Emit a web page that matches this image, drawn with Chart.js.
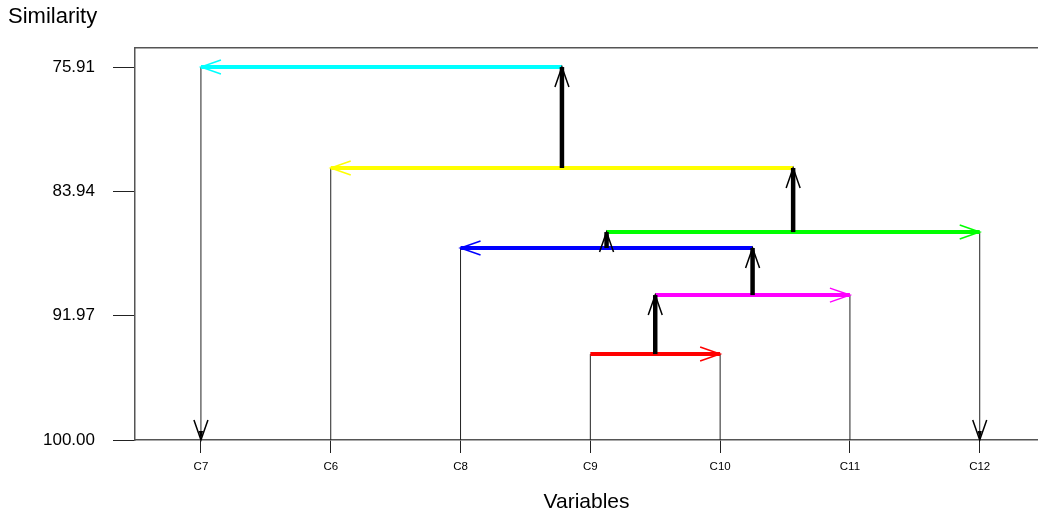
<!DOCTYPE html>
<html>
<head>
<meta charset="utf-8">
<script src="https://cdn.jsdelivr.net/npm/chart.js@4.4.1/dist/chart.umd.min.js"></script>
<style>
  html, body { margin: 0; padding: 0; background: #ffffff; }
  #chart { display: block; }
</style>
</head>
<body>
<canvas id="chart" width="1038" height="521"></canvas>
<script>
// Dendrogram data (single variable clustering)
const categories = ['C7', 'C6', 'C8', 'C9', 'C10', 'C11', 'C12'];
const yTickValues = [75.91, 83.94, 91.97, 100.00];

// Each merge step: the growing cluster, the leaf that joins it, similarity level
const mergeFrom = ['C9', 'M1', 'M2', 'M3', 'M4', 'M5'];
const mergeTo = ['C10', 'C11', 'C8', 'C12', 'C6', 'C7'];
const mergeLevel = [94.45, 90.64, 87.60, 86.57, 82.43, 75.91];

// leaves that get a down arrow on the axis
const downArrowLeaves = ['C7', 'C12'];

const MERGE_COLORS = ['#ff0000', '#ff00ff', '#0000ff', '#00ff00', '#ffff00', '#00ffff'];
const FONT = "'Liberation Sans', Arial, sans-serif";
const LINE_DARK = '#222';
const AXIS_GRAY = '#555';

function nodeX(name) {
  if (name.startsWith('M')) {
    const k = parseInt(name.slice(1)) - 1;
    return (nodeX(mergeFrom[k]) + nodeX(mergeTo[k])) / 2;
  }
  return categories.indexOf(name);
}

function nodeLevel(name) {
  if (name.startsWith('M')) return mergeLevel[parseInt(name.slice(1)) - 1];
  return 100;
}

function segment(points, color, width, order, arrow) {
  return {
    data: points,
    showLine: true,
    borderColor: color,
    backgroundColor: color,
    borderWidth: width,
    borderCapStyle: 'butt',
    pointRadius: 0,
    pointHitRadius: 0,
    clip: false,
    order: order,
    arrow: arrow || null
  };
}

/**
 * Builds all the line segments of the dendrogram
 */
function buildDatasets() {
  const sets = [];
  for (let i = 0; i < mergeFrom.length; i++) {
    const from = mergeFrom[i];
    const to = mergeTo[i];
    const level = mergeLevel[i];
    const xFrom = nodeX(from);
    const xTo = nodeX(to);

    // horizontal join, arrow toward the joining leaf
    sets.push(segment([{ x: xFrom, y: level }, { x: xTo, y: level }], MERGE_COLORS[i], 4, 2, 'end'));

    // link from the growing cluster up to this level
    if (from.startsWith('M')) {
      sets.push(segment([{ x: xFrom, y: nodeLevel(from) }, { x: xFrom, y: level }], '#000000', 4.5, 1, 'end'));
    } else {
      sets.push(segment([{ x: xFrom, y: 100 }, { x: xFrom, y: level }], LINE_DARK, 1, 3));
    }

    // thin line from the leaf on the axis
    const down = downArrowLeaves.includes(to) ? 'start' : null;
    sets.push(segment([{ x: xTo, y: 100 }, { x: xTo, y: level }], LINE_DARK, 1, 3, down));
  }
  return sets;
}

// Draws open arrow heads on datasets flagged with `arrow`
const arrowHeads = {
  id: 'arrowHeads',
  afterDatasetsDraw(chart) {
    const ctx = chart.ctx;
    chart.data.datasets.forEach((ds, i) => {
      if (!ds.arrow) return;
      const pts = chart.getDatasetMeta(i).data;
      let tip, back;
      if (ds.arrow === 'end') {
        tip = pts[pts.length - 1];
        back = pts[pts.length - 2];
      } else {
        tip = pts[0];
        back = pts[1];
      }
      const ang = Math.atan2(tip.y - back.y, tip.x - back.x);
      const len = 20;
      const half = 7;
      const bx = tip.x - len * Math.cos(ang);
      const by = tip.y - len * Math.sin(ang);
      const px = -Math.sin(ang) * half;
      const py = Math.cos(ang) * half;
      const color = ds.borderColor === LINE_DARK ? '#000000' : ds.borderColor;
      ctx.save();
      ctx.strokeStyle = color;
      ctx.fillStyle = color;
      ctx.lineWidth = 1.5;
      ctx.lineJoin = 'miter';
      ctx.beginPath();
      ctx.moveTo(bx + px, by + py);
      ctx.lineTo(tip.x, tip.y);
      ctx.lineTo(bx - px, by - py);
      ctx.stroke();
      // small solid core near the tip
      const cx = tip.x - 9 * Math.cos(ang);
      const cy = tip.y - 9 * Math.sin(ang);
      ctx.beginPath();
      ctx.moveTo(tip.x, tip.y);
      ctx.lineTo(cx + px * 0.3, cy + py * 0.3);
      ctx.lineTo(cx - px * 0.3, cy - py * 0.3);
      ctx.closePath();
      ctx.fill();
      ctx.restore();
    });
  }
};

const X_MIN = -0.508;
const X_MAX = 6.449;

new Chart(document.getElementById('chart'), {
  type: 'scatter',
  data: { datasets: buildDatasets() },
  options: {
    responsive: false,
    devicePixelRatio: 1,
    animation: false,
    layout: { padding: { left: 8, right: 0, top: 0, bottom: 0 } },
    plugins: {
      legend: { display: false },
      tooltip: { enabled: false },
      title: {
        display: true,
        text: 'Similarity',
        align: 'start',
        color: '#000000',
        font: { family: FONT, size: 22, weight: 'normal' },
        padding: { top: 4, bottom: 17.6 }
      }
    },
    scales: {
      x: {
        type: 'linear',
        position: 'bottom',
        min: X_MIN,
        max: X_MAX,
        afterBuildTicks: (scale) => {
          scale.ticks = categories.map((c, i) => ({ value: i }));
        },
        afterFit: (scale) => { scale.height = 81; },
        ticks: {
          autoSkip: false,
          maxRotation: 0,
          padding: 7,
          color: '#000000',
          font: { family: FONT, size: 11.5 },
          callback: (v) => categories[v]
        },
        grid: { drawOnChartArea: false, tickLength: 13, color: LINE_DARK, lineWidth: 1 },
        border: { display: true, color: AXIS_GRAY, width: 1.5 },
        title: {
          display: true,
          text: 'Variables',
          color: '#000000',
          font: { family: FONT, size: 21 },
          padding: { top: 0, bottom: 6 }
        }
      },
      xTop: {
        type: 'linear',
        position: 'top',
        min: X_MIN,
        max: X_MAX,
        afterBuildTicks: (scale) => { scale.ticks = []; },
        afterFit: (scale) => { scale.height = 0; },
        ticks: { display: false },
        grid: { drawOnChartArea: false, drawTicks: false },
        border: { display: true, color: AXIS_GRAY, width: 1.5 }
      },
      y: {
        type: 'linear',
        reverse: true,
        min: 74.68,
        max: 100,
        afterBuildTicks: (scale) => {
          scale.ticks = yTickValues.map(v => ({ value: v }));
        },
        afterFit: (scale) => { scale.width = 127; },
        ticks: {
          padding: 18,
          color: '#000000',
          font: { family: FONT, size: 17 },
          callback: (v) => Number(v).toFixed(2)
        },
        grid: { drawOnChartArea: false, tickLength: 22, color: LINE_DARK, lineWidth: 1 },
        border: { display: true, color: AXIS_GRAY, width: 1.5 }
      }
    }
  },
  plugins: [arrowHeads]
});
</script>
</body>
</html>
